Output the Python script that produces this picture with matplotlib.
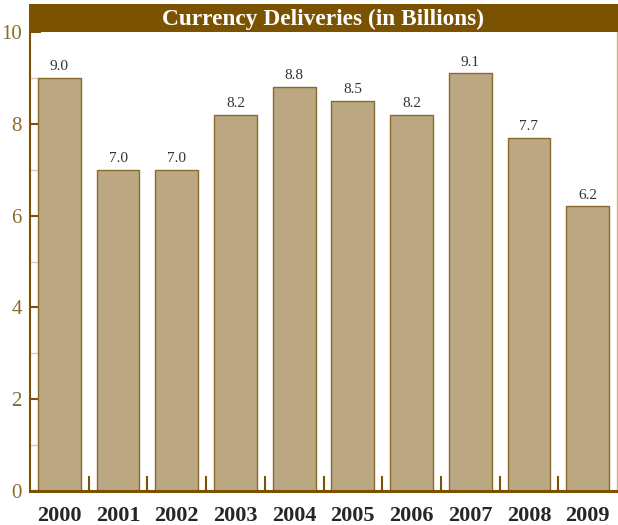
import matplotlib.pyplot as plt
from matplotlib.patches import Rectangle
import numpy as np

years = ['2000', '2001', '2002', '2003', '2004', '2005', '2006', '2007', '2008', '2009']
deliveries = [9.0, 7.0, 7.0, 8.2, 8.8, 8.5, 8.2, 9.1, 7.7, 6.2]
y_ticks = [0, 2, 4, 6, 8, 10]

BROWN = '#7a5200'
TAN = '#bba782'
LABEL_BROWN = '#8b6a2c'

plt.rcParams['font.family'] = ['Liberation Serif', 'DejaVu Serif']

fig = plt.figure(figsize=(6.18, 5.25), dpi=100)
ax = fig.add_axes([30 / 618, 34 / 525, 587 / 618, 459 / 525])

x = np.arange(len(years))
bars = ax.bar(x, deliveries, width=0.73, color=TAN, edgecolor='#8a6a2a', linewidth=1.0, zorder=2)

for xi, v in zip(x, deliveries):
    ax.text(xi, v + 0.1, '%.1f' % v, ha='center', va='bottom', fontsize=11, color='#333333')

ax.set_xlim(-0.5, len(years) - 0.5)
ax.set_ylim(0, 10)

# y axis: major ticks inside, lighter minor ticks at odd values
ax.set_yticks(y_ticks)
ax.set_yticklabels([str(t) for t in y_ticks], fontsize=15, color=LABEL_BROWN)
ax.set_yticks(np.arange(1, 10, 2), minor=True)
ax.tick_params(axis='y', which='major', direction='in', length=8, width=1.5, color=BROWN, pad=6)
ax.tick_params(axis='y', which='minor', direction='in', length=8, width=1.0, color='#d8ccb2')

# x axis: separators between years, year labels below each bar
ax.set_xticks(x[:-1] + 0.5)
ax.set_xticklabels([])
ax.tick_params(axis='x', which='major', direction='in', length=11, width=1.5, color=BROWN)
for xi, yr in zip(x, years):
    ax.text(xi, -0.55, yr, ha='center', va='center', fontsize=16, fontweight='bold',
            color='#262626', transform=ax.transData)

ax.spines['top'].set_visible(False)
ax.spines['left'].set_color(BROWN)
ax.spines['left'].set_linewidth(1.5)
ax.spines['bottom'].set_color(BROWN)
ax.spines['bottom'].set_linewidth(2.2)
ax.spines['right'].set_color('#c9b58c')
ax.spines['right'].set_linewidth(1.0)

# title banner across the top
fig.patches.append(Rectangle((29 / 618, 493 / 525), 589 / 618, 28 / 525,
                             transform=fig.transFigure, facecolor=BROWN, edgecolor='none'))
fig.text((30 + 617) / 2 / 618, 506 / 525, 'Currency Deliveries (in Billions)', ha='center', va='center',
         fontsize=16.8, fontweight='bold', color='white')

fig.savefig('out.png', dpi=100)
